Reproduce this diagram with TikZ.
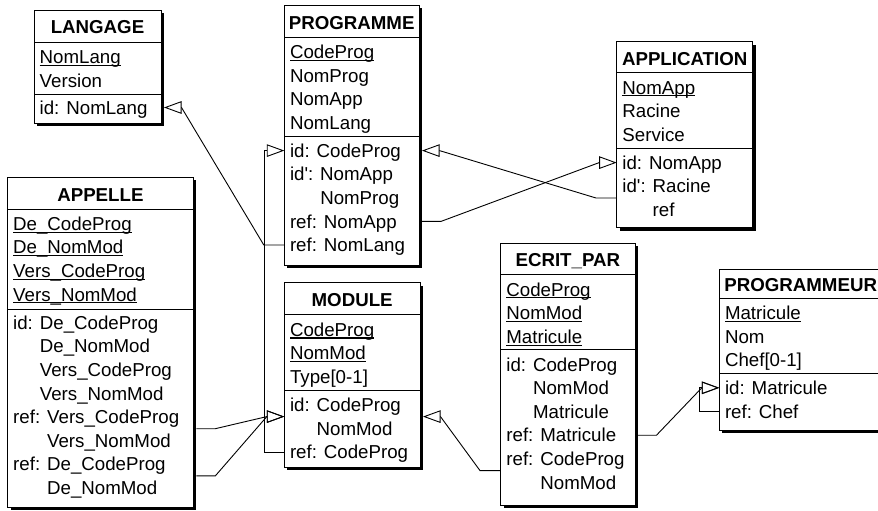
\documentclass[tikz,border=0pt]{standalone}
\usepackage{fontspec}
\setmainfont{Liberation Sans}
\usetikzlibrary{calc,arrows.meta,shadows}

% underlined identifier attribute (rule crosses the descenders)
\newsavebox\keybox
\newcommand{\key}[1]{\sbox\keybox{#1}\rlap{\rule[-2.3pt]{\wd\keybox}{1.1pt}}\usebox\keybox}
\newcommand{\prm}{\textquotesingle}

% entity box: name, left, top, right, bottom, title rule, group rule, title
\newcommand{\entity}[8]{%
  \node[entity, minimum width={#4-#2}, minimum height={#5-#3}] (#1) at (#2,#3) {};
  \draw[sepline] (#2,#6) -- (#4,#6);
  \draw[sepline] (#2,#7) -- (#4,#7);
  \node[etitle] (#1-title) at ({(#2+#4)/2},{(#3+#6)/2+1.2}) {#8};
}
% rows of one group: prefix, x, y of first row, list of rows
\newcommand{\rowgroup}[4]{%
  \foreach \rowtext [count=\rowno] in {#4} {%
    \node[erow] (#1\rowno) at ({#2},{#3+23.6*(\rowno-1)}) {\rowtext};
  }%
}

\begin{document}
\begin{tikzpicture}[x=1pt, y=-1pt,
  entity/.style={draw, line width=0.9pt, fill=white, anchor=north west,
    inner sep=0pt, outer sep=0pt,
    drop shadow={shadow xshift=3pt, shadow yshift=-3pt, fill=black, opacity=1}},
  etitle/.style={font=\fontsize{18.7}{22}\selectfont\bfseries, inner sep=0pt,
    text height=13.4pt, text depth=0pt},
  erow/.style={font=\fontsize{18.7}{22}\selectfont, anchor=west, inner sep=0pt,
    text height=13.4pt, text depth=0pt},
  sepline/.style={line width=0.9pt},
  link/.style={line width=0.9pt,
    -{Triangle[open, length=17.5pt, width=12.5pt]}}
]
\useasboundingbox (0,0) rectangle (878,511);
\clip (0,0) rectangle (878,511);

% ---------- entities ----------
\entity{lang}{34}{10}{161}{123}{42}{94}{LANGAGE}
\rowgroup{lg-a}{39.5}{56.8}{\key{NomLang}, Version}
\rowgroup{lg-i}{39.5}{107.5}{id: NomLang}

\entity{prog}{284.3}{5}{419}{265}{37.3}{136}{PROGRAMME}
\rowgroup{pr-a}{289.8}{52.1}{\key{CodeProg}, NomProg, NomApp, NomLang}
\rowgroup{pr-i}{289.8}{150.6}{id: CodeProg, id\prm: NomApp, \phantom{id\prm: }NomProg, ref: NomApp, ref: NomLang}

\entity{appl}{616.7}{41.7}{752.7}{227.7}{72.7}{148.3}{APPLICATION}
\rowgroup{ap-a}{622.2}{87.4}{\key{NomApp}, Racine, Service}
\rowgroup{ap-i}{622.2}{162.6}{id: NomApp, id\prm: Racine, \phantom{id\prm: }ref}

\entity{call}{7.5}{177.3}{193.3}{507.3}{209}{309}{APPELLE}
\rowgroup{ae-a}{13}{223.6}{\key{De\_CodeProg}, \key{De\_NomMod}, \key{Vers\_CodeProg}, \key{Vers\_NomMod}}
\rowgroup{ae-i}{13}{322.5}{id: De\_CodeProg, \phantom{id: }De\_NomMod, \phantom{id: }Vers\_CodeProg, \phantom{id: }Vers\_NomMod, ref: Vers\_CodeProg, \phantom{ref: }Vers\_NomMod, ref: De\_CodeProg, \phantom{ref: }De\_NomMod}

\entity{mod}{284.3}{282.7}{420}{467}{314.3}{390}{MODULE}
\rowgroup{mo-a}{289.8}{329.5}{\key{CodeProg}, \key{NomMod}, Type[0-1]}
\rowgroup{mo-i}{289.8}{404.8}{id: CodeProg, \phantom{id: }NomMod, ref: CodeProg}

\entity{ecrit}{500.7}{243.3}{635}{505}{274}{349.5}{ECRIT\_PAR}
\rowgroup{ec-a}{506.2}{289.4}{\key{CodeProg}, \key{NomMod}, \key{Matricule}}
\rowgroup{ec-i}{506.2}{364.4}{id: CodeProg, \phantom{id: }NomMod, \phantom{id: }Matricule, ref: Matricule, ref: CodeProg, \phantom{ref: }NomMod}

\entity{prgr}{719.3}{269}{882}{430}{298.5}{373.5}{PROGRAMMEUR}
\rowgroup{pg-a}{724.8}{313}{\key{Matricule}, Nom, Chef[0-1]}
\rowgroup{pg-i}{724.8}{387.8}{id: Matricule, ref: Chef}

% middle of multi-row groups
\coordinate (ap-ref) at ($(ap-i2)!.5!(ap-i3)$);
\coordinate (ae-ref1) at ($(ae-i5)!.5!(ae-i6)$);
\coordinate (ae-ref2) at ($(ae-i7)!.5!(ae-i8)$);
\coordinate (mo-id) at ($(mo-i1)!.5!(mo-i2)$);
\coordinate (ec-ref) at ($(ec-i5)!.5!(ec-i6)$);

% ---------- references ----------
% PROGRAMME.NomLang -> LANGAGE
\draw[link] (prog.west |- pr-i5) -- ++(-20.5,0)
  -- ($(lang.east |- lg-i1)+(20.5,0)$) -- ($(lang.east |- lg-i1)+(3,0)$);
% MODULE.CodeProg -> PROGRAMME
\draw[link] (mod.west |- mo-i3) -- ++(-20.3,0) |- (prog.west |- pr-i1);
% APPLICATION.Racine -> PROGRAMME
\draw[link] (appl.west |- ap-ref) -- ++(-20.7,0)
  -- ($(prog.east |- pr-i1)+(20.5,0)$) -- ($(prog.east |- pr-i1)+(3,0)$);
% PROGRAMME.NomApp -> APPLICATION
\draw[link] ($(prog.east |- pr-i4)+(3,0)$) -- ++(19,0)
  -- ($(appl.west |- ap-i1)+(-17.5,0)$) -- (appl.west |- ap-i1);
% APPELLE -> MODULE (twice)
\draw[link] ($(call.east |- ae-ref1)+(3,0)$) -- ++(19,0)
  -- ($(mod.west |- mo-id)+(-17.5,0)$) -- (mod.west |- mo-id);
\draw[link] ($(call.east |- ae-ref2)+(3,0)$) -- ++(19,0)
  -- ($(mod.west |- mo-id)+(-17.5,0)$) -- (mod.west |- mo-id);
% ECRIT_PAR -> MODULE
\draw[link] (ecrit.west |- ec-ref) -- ++(-20.7,0)
  -- ($(mod.east |- mo-id)+(20.5,0)$) -- ($(mod.east |- mo-id)+(3,0)$);
% ECRIT_PAR.Matricule -> PROGRAMMEUR
\draw[link] ($(ecrit.east |- ec-i4)+(3,0)$) -- ++(18.5,0)
  -- ($(prgr.west |- pg-i1)+(-17.5,0)$) -- (prgr.west |- pg-i1);
% PROGRAMMEUR.Chef -> PROGRAMMEUR
\draw[link] (prgr.west |- pg-i2) -- ++(-20.3,0) |- (prgr.west |- pg-i1);
\end{tikzpicture}
\end{document}
